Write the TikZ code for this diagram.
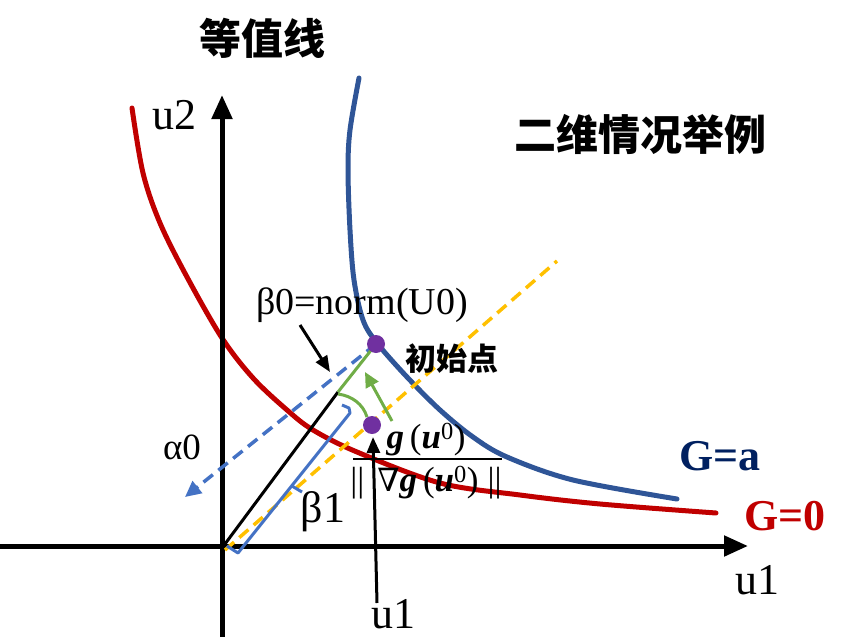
\documentclass[tikz,border=0pt]{standalone}
\usepackage{fontspec}
\setmainfont{Liberation Serif}
\newfontfamily\cjk{Noto Sans CJK SC}
\newfontfamily\dejav{DejaVu Serif}
\usetikzlibrary{arrows.meta}
\definecolor{cred}{RGB}{192,0,0}
\definecolor{cblue}{RGB}{47,85,151}
\definecolor{lblue}{RGB}{68,114,196}
\definecolor{cyel}{RGB}{255,192,0}
\definecolor{cgreen}{RGB}{112,173,71}
\definecolor{cpurp}{RGB}{112,48,160}
\definecolor{dblue}{RGB}{0,32,96}
\tikzset{
  axis/.style={line width=5pt,-{Triangle[length=24pt,width=20pt]}},
  curve/.style={line width=5pt,line cap=round},
  cjkbold/.style={font=\cjk\bfseries\fontsize{#1}{#1}\selectfont,inner sep=0pt},
  serif/.style={font=\fontsize{#1}{#1}\selectfont,inner sep=0pt},
  dot/.style={circle,fill=cpurp,minimum size=18pt,inner sep=0pt},
  blk/.style={line width=3pt,-{Triangle[length=16pt,width=13pt]}},
}
\begin{document}
\begin{tikzpicture}[x=1pt,y=-1pt]
\useasboundingbox (0,0) rectangle (852,637);
% coordinates
\coordinate (hx0) at (0,546);
\coordinate (hx1) at (748,546);
\coordinate (vy0) at (222,637);
\coordinate (vy1) at (222,95);
\coordinate (O) at (222,548);
\coordinate (K) at (338,392);
\coordinate (P) at (376,344);
\coordinate (Q) at (372,425);
\coordinate (Y0) at (225,550);
\coordinate (Y1) at (557,261);
\coordinate (A0) at (185,497);
% curves
\draw[curve,cred] plot[smooth,tension=0.55] coordinates {(132,108) (143,173) (160,223) (187,277) (222,338) (253,378) (287,410) (313,430) (357,452) (440,483) (520,495) (600,504) (716,513)};
\draw[curve,cblue] plot[smooth,tension=0.55] coordinates {(359,78) (350,130) (348,170) (350,230) (354,280) (363,320) (377,343) (407,377) (440,410) (473,437) (507,457) (573,480) (677,499)};
% axes
\draw[axis] (hx0) -- (hx1);
\draw[axis] (vy0) -- (vy1);
% yellow dashed
\draw[cyel,line width=3.5pt,dash pattern=on 12pt off 7pt] (Y0) -- (Y1);
% blue dashed arrow
\draw[lblue,line width=3.5pt,dash pattern=on 12pt off 7pt,-{Triangle[length=16pt,width=15pt]}] (P) -- (A0);
% black line and green
\draw[line width=3pt] (O) -- (K);
\draw[cgreen,line width=3pt] (K) -- (P);
\coordinate (G0) at (338,394);
\coordinate (G1) at (367,417);
\draw[cgreen,line width=3pt] (G0) .. controls (352,396) and (363,404) .. (G1);
\coordinate (GA0) at (392,421);
\coordinate (GA1) at (365,372);
\draw[cgreen,line width=3pt,-{Triangle[length=15pt,width=14pt]}] (GA0) -- (GA1);
% bracket
\coordinate (B1) at (342,405);
\coordinate (B2) at (349,408);
\coordinate (B3) at (350,413);
\coordinate (B4) at (238,553);
\coordinate (B5) at (227,546);
\coordinate (T0) at (292,486);
\coordinate (T1) at (302,492);
\draw[lblue,line width=3pt,line join=round] (B1) -- (B2) -- (B3) -- (B4) -- (B5);
\draw[lblue,line width=3pt] (T0) -- (T1);
% dots
\node[dot] (d1) at (P) {};
\node[dot] (d2) at (Q) {};
% texts
\node[cjkbold=42pt] (t1) at (262,38) {等值线};
\node[cjkbold=42pt] (t2) at (640,134) {二维情况举例};
\node[cjkbold=31pt] (t3) at (452,359) {初始点};
\node[serif=44pt] (u2) at (174,115) {u2};
\node[serif=44pt] (u1r) at (757,580) {u1};
\node[serif=44pt] (u1b) at (393,614) {u1};
\node[serif=38pt] (b0) at (362,305) {β0=norm(U0)};
\node[serif=37pt] (a0) at (182,447) {α0};
\node[serif=44pt] (b1) at (323,512) {β1};
\node[font=\bfseries\fontsize{44pt}{44pt}\selectfont,inner sep=0pt,text=dblue] (ga) at (720,456) {G=a};
\node[font=\bfseries\fontsize{44pt}{44pt}\selectfont,inner sep=0pt,text=cred] (g0) at (785,516) {G=0};
% fraction
\node[serif=35pt] (num) at (426,440) {\textbf{\textit{g}}\,(\textbf{\textit{u}}\textsuperscript{0})};
\node[serif=35pt] (den) at (426,483) {||\hspace{13pt}{\dejav\fontsize{32pt}{32pt}\selectfont ∇}\textbf{\textit{g}}\,(\textbf{\textit{u}}\textsuperscript{0})\hspace{9pt}||};
\coordinate (F0) at (353,459);
\coordinate (F1) at (502,459);
\draw[line width=2pt] (F0) -- (F1);
% black arrows
\coordinate (BA0) at (300,325);
\coordinate (BA1) at (330,372);
\draw[blk] (BA0) -- (BA1);
\coordinate (UA0) at (377,603);
\coordinate (UA1) at (373,437);
\draw[blk] (UA0) -- (UA1);
\end{tikzpicture}
\end{document}
